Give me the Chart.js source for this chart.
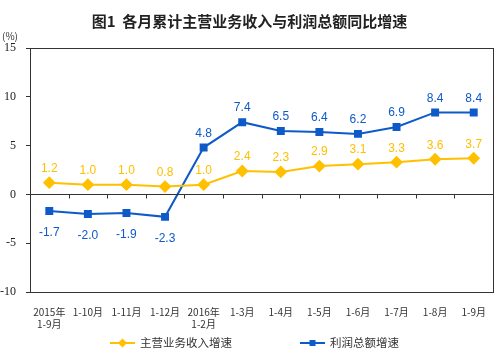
<!DOCTYPE html>
<html>
<head>
<meta charset="utf-8">
<script src="https://cdn.jsdelivr.net/npm/chart.js@4"></script>
<style>
  html, body { margin: 0; padding: 0; background: #fff; }
  #wrap { width: 500px; height: 351px; }
</style>
</head>
<body>
<div id="wrap"><canvas id="chart"></canvas></div>
<script>
var months = [['2015年', '1-9月'], '1-10月', '1-11月', '1-12月', ['2016年', '1-2月'],
              '1-3月', '1-4月', '1-5月', '1-6月', '1-7月', '1-8月', '1-9月']
var revenue_growth = [1.2, 1.0, 1.0, 0.8, 1.0, 2.4, 2.3, 2.9, 3.1, 3.3, 3.6, 3.7]
var profit_growth = [-1.7, -2.0, -1.9, -2.3, 4.8, 7.4, 6.5, 6.4, 6.2, 6.9, 8.4, 8.4]
var y_ticks = [15, 10, 5, 0, -5, -10]

var yellow = '#FFC000', blue = '#0D5AC8'
var cjk = '"Noto Sans CJK SC", sans-serif'

function drawMarker(ctx, style, x, y){
    ctx.beginPath()
    if(style == 'rectRot'){
        ctx.moveTo(x, y - 4.5); ctx.lineTo(x + 4.5, y); ctx.lineTo(x, y + 4.5); ctx.lineTo(x - 4.5, y)
    } else {
        ctx.rect(x - 3, y - 3, 6, 6)
    }
    ctx.fill()
}

// frame, zero line with ticks, value labels, unit and legend
var decorations = {
    id: 'decorations',
    afterDatasetsDraw(chart) {
        let ctx = chart.ctx, area = chart.chartArea
        let y = chart.scales.y
        let y0 = Math.round(y.getPixelForValue(0)) + 0.5
        ctx.save()
        ctx.strokeStyle = '#333'
        ctx.lineWidth = 1
        ctx.strokeRect(area.left + 0.5, area.top + 0.5, area.right - area.left, area.bottom - area.top)
        ctx.beginPath()
        ctx.moveTo(area.left, y0); ctx.lineTo(area.right, y0)
        let step = (area.right - area.left) / months.length
        for(let i = 1; i < months.length; i++){
            let px = Math.round(area.left + i * step) + 0.5
            ctx.moveTo(px, y0); ctx.lineTo(px, y0 + 4)
        }
        ctx.stroke()

        ctx.font = '12px Arial, "Liberation Sans", sans-serif'
        ctx.textAlign = 'center'
        ctx.textBaseline = 'middle'
        chart.data.datasets.forEach((ds, di) => {
            let meta = chart.getDatasetMeta(di)
            ctx.fillStyle = ds.borderColor
            meta.data.forEach((pt, i) => {
                let v = ds.data[i]
                let off = v < 0 ? 22 : -14
                ctx.fillText(v.toFixed(1), pt.x, pt.y + off)
            })
        })

        ctx.fillStyle = '#333'
        ctx.font = '10px ' + cjk
        ctx.textAlign = 'left'
        ctx.fillText('(%)', 2, area.top - 12)

        // legend
        let ly = chart.height - 8
        let starts = [110, 300]
        ctx.font = '11.5px ' + cjk
        chart.data.datasets.forEach((ds, i) => {
            let sx = starts[i]
            ctx.strokeStyle = ds.borderColor
            ctx.fillStyle = ds.borderColor
            ctx.lineWidth = 2
            ctx.beginPath(); ctx.moveTo(sx, ly); ctx.lineTo(sx + 25, ly); ctx.stroke()
            drawMarker(ctx, ds.pointStyle, sx + 12.5, ly)
            ctx.fillStyle = '#333'
            ctx.fillText(ds.label, sx + 30, ly)
        })
        ctx.restore()
    }
}

new Chart(document.getElementById('chart').getContext('2d'), {
    type: 'line',
    data: {
        labels: months,
        datasets: [{
            label: '主营业务收入增速',
            data: revenue_growth,
            borderColor: yellow,
            backgroundColor: yellow,
            borderWidth: 2,
            pointStyle: 'rectRot',
            pointRadius: 5,
            pointHoverRadius: 5
        }, {
            label: '利润总额增速',
            data: profit_growth,
            borderColor: blue,
            backgroundColor: blue,
            borderWidth: 2,
            pointStyle: 'rect',
            pointRadius: 4.2,
            pointHoverRadius: 4.2
        }]
    },
    options: {
        responsive: true,
        maintainAspectRatio: false,
        animation: false,
        layout: { padding: { left: 0, right: 1, top: 0, bottom: 22 } },
        plugins: {
            title: {
                display: true,
                text: '图1  各月累计主营业务收入与利润总额同比增速',
                color: '#222',
                font: { family: cjk, size: 15, weight: 'bold' },
                padding: { top: 12, bottom: 18 }
            },
            legend: { display: false },
            tooltip: { enabled: false }
        },
        scales: {
            x: {
                offset: true,
                grid: { display: false },
                border: { display: false },
                ticks: {
                    color: '#333',
                    font: { family: cjk, size: 10 },
                    maxRotation: 0,
                    autoSkip: false,
                    padding: 6
                },
                afterFit: (scale) => { scale.height = 37 }
            },
            y: {
                min: -10,
                max: 15,
                afterBuildTicks: (scale) => { scale.ticks = y_ticks.map(v => ({ value: v })) },
                grid: { drawOnChartArea: false, tickLength: 4, color: '#333' },
                border: { display: false },
                ticks: {
                    color: '#222',
                    font: { family: '"Liberation Serif", serif', size: 12 },
                    padding: 10
                },
                afterFit: (scale) => { scale.width = 30 }
            }
        }
    },
    plugins: [decorations]
})
</script>
</body>
</html>
